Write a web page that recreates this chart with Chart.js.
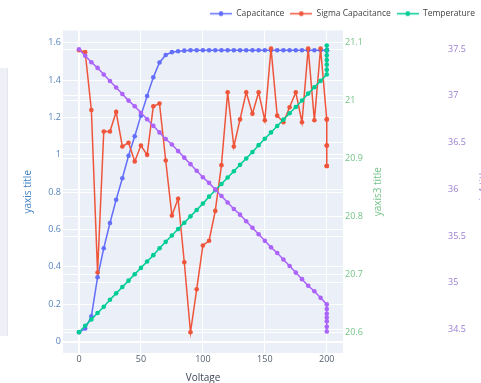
<!DOCTYPE html>
<html>
<head>
<meta charset="utf-8">
<script src="https://cdn.jsdelivr.net/npm/chart.js@4.4.1/dist/chart.umd.min.js"></script>
<style>
html, body { margin: 0; padding: 0; background: #fff; overflow: hidden; }
#wrap { position: relative; width: 481px; height: 383px; }
#side { position: absolute; left: 0; top: 68px; width: 7px; height: 268px; background: #eef0f5; border-right: 1px solid #e3e6ed; }
#chart { position: absolute; left: 0; top: 0; }
</style>
</head>
<body>
<div id="wrap">
  <div id="side"></div>
  <canvas id="chart" width="481" height="383"></canvas>
</div>
<script>
var voltage = [0,5,10,15,20,25,30,35,40,45,50,55,60,65,70,75,80,85,90,95,100,105,110,115,120,125,130,135,140,145,150,155,160,165,170,175,180,185,190,195,200,200,200,200,200,200,200];
var capacitance = [0.05,0.07,0.135,0.345,0.50,0.635,0.76,0.875,0.995,1.10,1.21,1.315,1.415,1.495,1.535,1.55,1.555,1.558,
  1.56,1.56,1.56,1.56,1.56,1.56,1.56,1.56,1.56,1.56,1.56,1.56,1.56,1.56,1.56,1.56,1.56,1.56,1.56,1.56,1.56,1.56,1.56,1.56,1.56,1.56,1.56,1.56,1.56];
var sigmaCapacitance = [1.56,1.55,1.24,0.37,1.125,1.125,1.23,1.045,1.065,0.965,1.05,1.0,1.26,1.275,0.97,0.675,0.765,0.425,0.05,0.28,
  0.515,0.54,0.70,0.945,1.335,1.045,1.19,1.335,1.22,1.335,1.185,1.57,1.21,1.175,1.255,1.335,1.175,1.57,1.185,1.57,
  1.19,1.19,1.05,1.05,0.94,0.94,0.94];
var temperature = [20.600,20.611,20.622,20.633,20.644,20.656,20.667,20.678,20.689,20.700,20.711,20.722,20.733,20.745,20.756,20.767,
  20.778,20.789,20.800,20.811,20.822,20.834,20.845,20.856,20.867,20.878,20.889,20.900,20.911,20.923,20.934,20.945,20.956,20.967,
  20.978,20.989,21.000,21.012,21.023,21.034,21.045,21.053,21.062,21.070,21.078,21.087,21.095];
var trace4 = [37.50,37.43,37.36,37.30,37.23,37.16,37.09,37.02,36.95,36.89,36.82,36.75,36.68,36.61,36.54,36.48,36.41,36.34,36.27,36.20,
  36.13,36.07,36.00,35.93,35.86,35.79,35.73,35.66,35.59,35.52,35.45,35.38,35.32,35.25,35.18,35.11,35.04,34.97,34.91,34.84,
  34.77,34.72,34.67,34.63,34.59,34.53,34.48];

var voltageTicks = [0,50,100,150,200];
var capTicks = [0,0.2,0.4,0.6,0.8,1,1.2,1.4,1.6];
var tempTicks = [20.6,20.7,20.8,20.9,21,21.1];
var trace4Ticks = [34.5,35,35.5,36,36.5,37,37.5];

var FONT = '"Open Sans", "Liberation Sans", sans-serif';

function pts(arr) {
  return voltage.map(function(v, i) { return {x: v, y: arr[i]}; });
}

// little line+dot symbol like the plotly legend
function icon(color) {
  var c = document.createElement('canvas');
  c.width = 22; c.height = 9;
  var g = c.getContext('2d');
  g.strokeStyle = color; g.lineWidth = 1.5;
  g.beginPath(); g.moveTo(0, 4.5); g.lineTo(22, 4.5); g.stroke();
  g.fillStyle = color;
  g.beginPath(); g.arc(11, 4.5, 2.4, 0, Math.PI * 2); g.fill();
  return c;
}

function setTicks(list) {
  return function(scale) { scale.ticks = list.map(function(v) { return {value: v}; }); };
}
function plain(v) { return String(v); }
function zeroWidth(c) { return c.tick && c.tick.value === 0 ? 2 : 1; }

var colors = ['#636EFA', '#EF553B', '#00CC96', '#AB63FA'];
var icons = colors.map(icon);

var plotBg = {
  id: 'plotBg',
  beforeDraw: function(chart) {
    var a = chart.chartArea, ctx = chart.ctx;
    ctx.save();
    ctx.fillStyle = '#ebeff7';
    ctx.fillRect(a.left, a.top, a.right - a.left, a.bottom - a.top);
    ctx.restore();
  },
  afterLayout: function(chart) {
    chart.legend.top -= 2.5;
    chart.legend.bottom -= 2.5;
  },
  afterDraw: function(chart) {
    // right side titles read bottom-to-top, like plotly
    var ctx = chart.ctx, a = chart.chartArea;
    var cy = (a.top + a.bottom) / 2;
    var items = [
      ['yaxis3 title', chart.scales.y3.left + 35, '#74c387'],
      ['yaxis4 title', chart.scales.y4.right + 3, '#a484d8']
    ];
    ctx.save();
    ctx.font = '10px ' + FONT;
    ctx.textAlign = 'center';
    ctx.textBaseline = 'middle';
    items.forEach(function(t) {
      ctx.save();
      ctx.translate(t[1], cy);
      ctx.rotate(-Math.PI / 2);
      ctx.fillStyle = t[2];
      ctx.fillText(t[0], 0, 0);
      ctx.restore();
    });
    ctx.restore();
  }
};

function ds(label, arr, axis, color, order) {
  return {
    label: label, data: pts(arr), yAxisID: axis,
    borderColor: color, backgroundColor: color,
    borderWidth: 1.5, pointRadius: 2.3, pointBorderWidth: 0,
    order: order, tension: 0
  };
}

new Chart(document.getElementById('chart'), {
  type: 'line',
  data: {
    datasets: [
      ds('Capacitance', capacitance, 'y', colors[0], 4),
      ds('Sigma Capacitance', sigmaCapacitance, 'y', colors[1], 3),
      ds('Temperature', temperature, 'y3', colors[2], 2),
      ds('Trace 4', trace4, 'y4', colors[3], 1)
    ]
  },
  options: {
    responsive: false,
    animation: false,
    layout: { padding: { top: 6, left: 0, right: 0, bottom: 0 } },
    plugins: {
      tooltip: { enabled: false },
      legend: {
        position: 'top',
        align: 'end',
        labels: {
          usePointStyle: true,
          pointStyleWidth: 22,
          padding: 6,
          color: '#444',
          font: { family: FONT, size: 8.5 },
          sort: function(a, b) { return a.datasetIndex - b.datasetIndex; },
          filter: function(item) { return item.datasetIndex !== 3; },
          generateLabels: function(chart) {
            var items = Chart.defaults.plugins.legend.labels.generateLabels(chart);
            items.forEach(function(it) { it.pointStyle = icons[it.datasetIndex]; });
            return items;
          }
        }
      }
    },
    scales: {
      x: {
        type: 'linear', position: 'bottom', min: -12.9, max: 213.1,
        afterBuildTicks: setTicks(voltageTicks),
        afterFit: function(s) { s.height = 30; },
        grid: { color: '#ffffff', lineWidth: zeroWidth, drawTicks: false },
        border: { display: false },
        ticks: { color: '#55606f', padding: 1, maxRotation: 0, font: { family: FONT, size: 9 }, callback: plain },
        title: { display: true, text: 'Voltage', color: '#3d4656', padding: 0, font: { family: FONT, size: 10, lineHeight: 1 } }
      },
      y: {
        position: 'left', min: -0.061, max: 1.666,
        afterBuildTicks: setTicks(capTicks),
        afterFit: function(s) { s.width = 63; },
        grid: { color: '#ffffff', lineWidth: zeroWidth, drawTicks: false },
        border: { display: false },
        ticks: { color: '#5584bb', padding: 2, font: { family: FONT, size: 9 }, callback: plain },
        title: { display: true, text: 'yaxis title', color: '#3f7fc0', padding: { top: 22, bottom: 0 }, font: { family: FONT, size: 10 } }
      },
      y3: {
        position: 'right', min: 20.564, max: 21.121,
        afterBuildTicks: setTicks(tempTicks),
        afterFit: function(s) { s.width = 100; },
        grid: { color: '#ffffff', drawTicks: false },
        border: { display: false },
        ticks: { color: '#74c387', padding: 2, font: { family: FONT, size: 9 }, callback: plain }
      },
      y4: {
        position: 'right', min: 34.25, max: 37.70,
        afterBuildTicks: setTicks(trace4Ticks),
        afterFit: function(s) { s.width = 38; },
        grid: { color: '#ffffff', drawTicks: false },
        border: { display: false },
        ticks: { color: '#9a7fd0', padding: 5, font: { family: FONT, size: 9 }, callback: plain }
      }
    }
  },
  plugins: [plotBg]
});
</script>
</body>
</html>
